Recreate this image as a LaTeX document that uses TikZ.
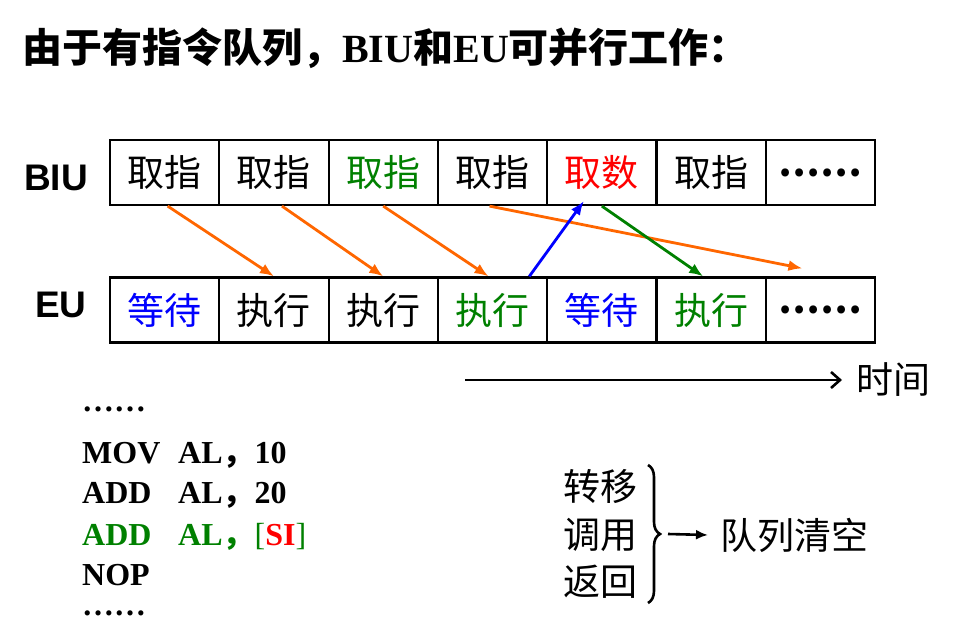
\documentclass[tikz,border=0pt]{standalone}
\usepackage{fontspec}
\setmainfont{Liberation Serif}
\newfontfamily\cjk{Noto Sans CJK SC}
\newfontfamily\arial{Liberation Sans}
\usetikzlibrary{arrows.meta,decorations.pathreplacing}
\definecolor{myorange}{RGB}{255,102,0}
\definecolor{mygreen}{RGB}{0,128,0}
\definecolor{myblue}{RGB}{0,0,255}
\definecolor{myred}{RGB}{255,0,0}
\begin{document}
\begin{tikzpicture}[x=1pt,y=-1pt,
  cell/.style={draw, line width=2.2pt, minimum width=109.3pt, minimum height=65pt, inner sep=0pt, font=\fontsize{37}{40}\cjk},
  unitlbl/.style={inner sep=0pt, font=\fontsize{37}{40}\arial\bfseries},
  arr/.style={line width=2.8pt, -{Latex[length=14pt,width=11pt]}},
  code/.style={anchor=base west, inner sep=0pt, font=\fontsize{32}{36}\selectfont\bfseries},
  cjktext/.style={inner sep=0pt, font=\fontsize{37}{40}\cjk},
]
\useasboundingbox (0,0) rectangle (962,639);

% title
\node[anchor=west, inner sep=0pt, font=\fontsize{40}{42}\cjk\bfseries] (title) at (22,48)
  {由于有指令队列，{\rmfamily\bfseries BIU}和{\rmfamily\bfseries EU}可并行工作：};

% unit labels
\node[unitlbl] (biu) at (56,178) {BIU};
\node[unitlbl] (eu) at (61,305) {EU};

% BIU row
\foreach \t/\c [count=\i] in {取指/black,取指/black,取指/mygreen,取指/black,取数/myred,取指/black,{\bfseries ……}/black}
  \node[cell, text=\c] (b\i) at ({110+109.3*(\i-0.5)},172.5) {\t};
% EU row
\foreach \t/\c [count=\i] in {等待/myblue,执行/black,执行/black,执行/mygreen,等待/myblue,执行/mygreen,{\bfseries ……}/black}
  \node[cell, text=\c] (e\i) at ({110+109.3*(\i-0.5)},310) {\t};

% arrows between rows
\draw[arr, myorange] ([xshift=3pt]b1.south) -- (e2.north);
\draw[arr, myorange] ([xshift=8pt]b2.south) -- (e3.north);
\draw[arr, myorange] (b3.south) -- ([xshift=-4pt]e4.north);
\draw[arr, myorange] ([xshift=-3pt]b4.south) -- ([xshift=-18pt,yshift=8pt]e7.north);
\draw[arr, myblue] ([xshift=-19pt]e4.north east) -- ([xshift=-18pt,yshift=5pt]b5.south);
\draw[arr, mygreen] (b5.south) -- ([xshift=-8pt]e6.north);

% time axis
\node[cjktext, anchor=west] (time) at (856,380) {时间};
\coordinate (t0) at (465,380);
\draw[line width=2.6pt, -{Straight Barb[length=9pt,width=16pt,line width=2.6pt]}] (t0) -- ([xshift=-14pt]time.west);

% code
\node[code] (l0) at (82,411) {……};
\node[code] (l1) at (82,463) {\makebox[96pt][l]{MOV}AL{\cjk ，}10};
\node[code] (l2) at (82,503) {\makebox[96pt][l]{ADD}AL{\cjk ，}20};
\node[code, text=mygreen] (l3) at (82,545) {\makebox[96pt][l]{ADD}AL{\cjk ，}{\mdseries[}\textcolor{myred}{SI}{\mdseries]}};
\node[code] (l4) at (82,585) {NOP};
\node[code] (l5) at (82,615) {……};

% brace part
\node[cjktext] (zy) at (600,487) {转移};
\node[cjktext] (dy) at (600,535) {调用};
\node[cjktext] (fh) at (600,582) {返回};
\draw[decorate, decoration={brace, amplitude=12pt}, line width=2.6pt] (648,465) -- (648,603);
\coordinate (tip) at (668,534);
\node[cjktext, anchor=west] (qk) at (720,535) {队列清空};
\draw[line width=2.6pt, -{Latex[length=12pt,width=10pt]}] (tip) -- ([xshift=-12pt]qk.west);
\end{tikzpicture}
\end{document}
